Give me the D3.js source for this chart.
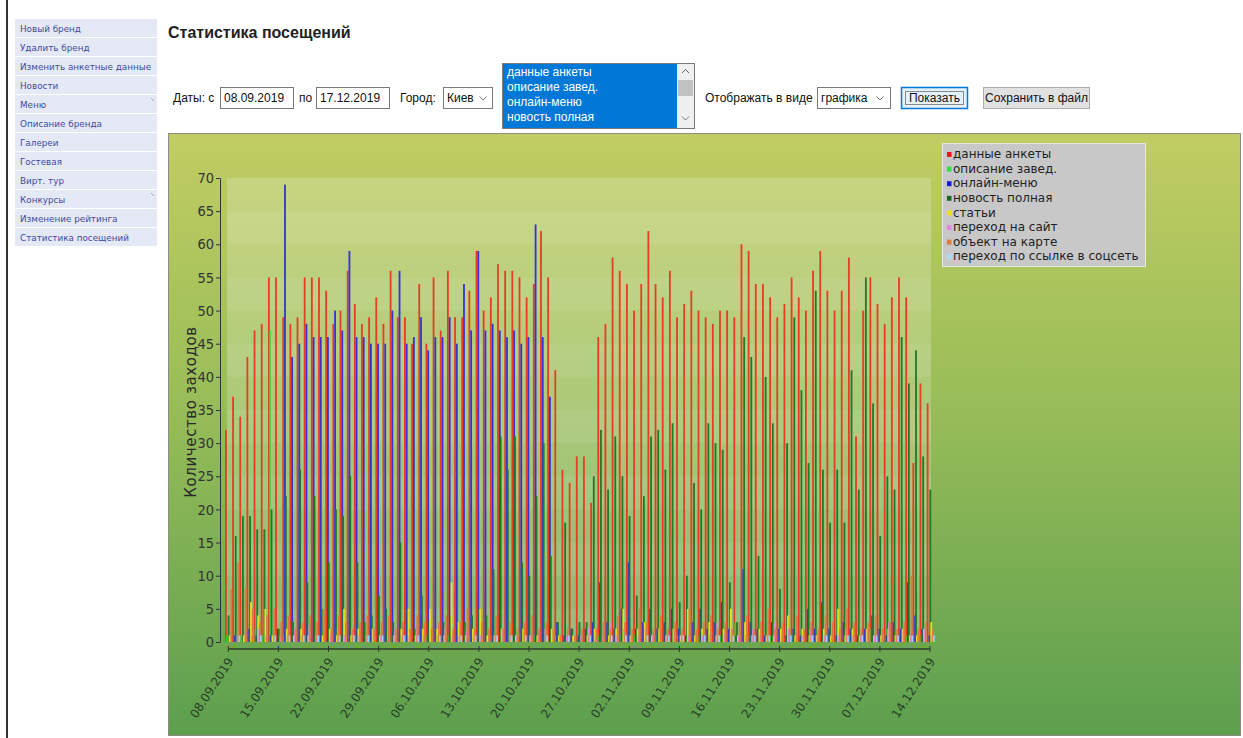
<!DOCTYPE html>
<html lang="ru">
<head>
<meta charset="UTF-8">
<title>Статистика посещений</title>
<script src="https://cdn.jsdelivr.net/npm/d3@7"></script>
<style>
  body { margin: 0; background: #fff; }
  svg { display: block; }
</style>
</head>
<body>
<svg width="1243" height="738"></svg>
<script>
  const svg = d3.select("svg");

  // ---- данные ----
  const menuItems = ["Новый бренд", "Удалить бренд", "Изменить анкетные данные", "Новости", "Меню",
    "Описание бренда", "Галереи", "Гостевая", "Вирт. тур", "Конкурсы", "Изменение рейтинга", "Статистика посещений"];
  const listItems = ["данные анкеты", "описание завед.", "онлайн-меню", "новость полная"];

  const seriesNames = ["данные анкеты", "описание завед.", "онлайн-меню", "новость полная", "статьи",
    "переход на сайт", "объект на карте", "переход по ссылке в соцсеть"];
  const seriesColors = ["#e83c24", "#3ccc30", "#3434d4", "#1f7a26", "#e8df22", "#e08ad2", "#e07a42", "#9ccdf0"];
  const legendColors = ["#e81818", "#30e040", "#1818d8", "#1a6a22", "#f0e020", "#e884e0", "#e07a3a", "#a8dcf4"];

  const tickLabels = ["08.09.2019", "15.09.2019", "22.09.2019", "29.09.2019", "06.10.2019", "13.10.2019", "20.10.2019",
    "27.10.2019", "02.11.2019", "09.11.2019", "16.11.2019", "23.11.2019", "30.11.2019", "07.12.2019", "14.12.2019"];
  const tickIndex = [0, 7, 14, 21, 28, 35, 42, 49, 56, 63, 70, 77, 84, 91, 98];

  const anketa = [32,37,34,43,47,48,55,55,49,48, 49,55,55,55,53,48,50,56,51,48,
    49,52,48,56,49,49,45,54,45,55, 47,56,49,49,53,59,50,52,57,56, 56,55,52,54,62,55,41,26,24,28,
    28,21,46,48,58,56,54,50,54,62, 54,52,56,49,51,53,50,49,48,50, 50,49,60,59,54,54,52,49,51,55,
    52,50,56,59,53,50,53,58,31,50, 55,51,48,52,55,52,27,39,36];
  const opisanie = [1,0,1,0,2,1,47,0,1,0, 0,1,0,1,0,0,1,0,1,0, 1,0,0,1,0,1,0,0,1,0, 0,1,0,0,1,0,0,1,0,0,
    1,0,0,1,0,0,1,0,0,1, 0,0,1,0,0,1,0,1,0,0, 1,0,0,1,0,0,1,0,0,1, 0,3,0,1,0,0,1,0,0,1,
    0,0,1,0,1,0,0,1,0,0, 2,0,1,0,0,1,0,1,0];
  const menu = [0,1,0,2,1,0,1,2,69,43, 45,48,46,46,46,50,47,59,46,46, 45,45,45,50,56,45,46,49,44,46,
    46,49,45,54,47,59,47,48,47,46, 47,45,46,63,46,37,3,1,2,1, 2,3,9,3,2,5,12,2,3,5,
    2,3,5,2,1,3,5,2,3,6, 2,1,11,3,2,1,3,2,1,2, 1,5,2,6,2,1,3,2,1,2, 4,2,1,3,2,9,4,2,1];
  const novost = [4,16,19,19,17,17,20,2,22,3, 26,9,22,5,12,20,19,25,12,3, 4,7,5,3,15,5,2,7,3,2,
    3,4,2,3,4,5,4,11,31,26, 31,12,10,22,30,13,3,18,2,3, 3,25,32,23,31,25,19,7,22,31,
    32,26,33,6,10,24,20,33,30,29, 9,3,46,43,13,40,33,8,30,49, 38,27,53,26,18,26,18,41,23,55,
    36,16,25,23,46,39,44,28,23];
  const stati = [1,0,1,6,4,5,1,0,2,1, 2,1,0,1,2,1,5,1,2,0, 2,1,0,1,2,5,1,2,5,2, 1,9,3,1,2,5,1,1,2,0,
    1,2,1,1,0,2,1,0,1,0, 1,2,0,1,2,5,1,2,3,1, 2,1,2,1,5,1,2,3,1,2, 5,1,3,1,2,1,1,2,4,1,
    2,1,1,2,1,5,1,2,1,2, 1,1,2,1,2,1,1,2,3];
  const sait = [0,1,0,1,2,1,0,1,1,2, 1,2,1,0,1,2,1,2,1,1, 2,1,1,2,1,1,2,1,0,1, 2,1,1,2,1,1,0,1,2,1,
    1,2,1,1,2,0,1,1,0,1, 2,1,1,3,1,2,1,1,2,1, 3,1,2,1,1,2,1,1,3,1, 2,1,1,2,1,1,3,1,2,1,
    1,2,1,1,3,1,2,1,1,2, 1,1,3,1,2,1,1,2,1];
  const karta = [8,12,8,5,3,4,5,3,4,2, 3,4,3,5,2,4,3,2,3,4, 2,3,4,2,3,2,4,3,2,3, 4,2,3,5,2,3,2,4,2,3,
    2,3,4,2,3,2,1,2,1,2, 1,2,3,2,4,3,2,5,3,2, 4,2,3,2,5,2,3,4,2,3, 2,3,4,2,3,5,2,3,2,4,
    2,3,2,4,3,2,5,3,2,3, 4,2,3,2,3,10,2,3,2];
  const socset = [0,1,0,0,1,0,1,0,1,0, 1,0,1,0,0,1,0,1,0,1, 0,1,0,0,1,0,1,0,0,1, 0,0,1,0,1,0,0,1,0,1,
    0,1,0,0,1,0,0,1,0,0, 1,0,0,1,0,1,0,0,1,0, 0,1,0,1,0,0,1,0,1,0, 1,0,0,1,0,1,0,0,1,0,
    0,1,0,1,0,0,1,0,1,0, 1,0,0,1,0,1,0,0,1];

  const series = [anketa, opisanie, menu, novost, stati, sait, karta, socset];
  const days = d3.range(anketa.length);

  // ---- левая рамка и меню ----
  svg.append("line").attr("x1", 7).attr("x2", 7).attr("y1", 0).attr("y2", 738)
    .attr("stroke", "#333").attr("stroke-width", 2);

  const menuG = svg.append("g").attr("transform", "translate(15,19)");
  const item = menuG.selectAll("g").data(menuItems).join("g")
    .attr("transform", (d, i) => `translate(0,${i * 19})`);
  item.append("rect").attr("width", 142).attr("height", 18).attr("fill", "#e5e9f6");
  item.append("text").attr("x", 5).attr("y", 9.5).attr("dy", "0.35em")
    .attr("font-family", "DejaVu Sans").attr("font-size", "8.8px").attr("fill", "#3d4b9e")
    .text(d => d);
  item.filter(d => d === "Меню" || d === "Конкурсы").append("path")
    .attr("d", "M136,3 L139,6").attr("stroke", "#a8aab8").attr("stroke-width", 1);

  // ---- заголовок и форма ----
  svg.append("text").attr("x", 168).attr("y", 38)
    .attr("font-family", "Liberation Sans, Arial").attr("font-weight", "bold").attr("font-size", "16px")
    .attr("fill", "#222").text("Статистика посещений");

  const form = svg.append("g").attr("font-family", "Liberation Sans, Arial").attr("font-size", "12px").attr("fill", "#111");
  const label = (x, t) => form.append("text").attr("x", x).attr("y", 98).attr("dy", "0.35em").text(t);
  const box = (x, w, t) => {
    form.append("rect").attr("x", x + 0.5).attr("y", 87.5).attr("width", w).attr("height", 21)
      .attr("fill", "#fff").attr("stroke", "#7a7a7a");
    form.append("text").attr("x", x + 4).attr("y", 98).attr("dy", "0.35em").text(t);
  };
  const chevron = (x, y) => form.append("path").attr("d", `M${x - 3.5},${y - 1.5} L${x},${y + 2} L${x + 3.5},${y - 1.5}`)
    .attr("fill", "none").attr("stroke", "#777");

  label(173, "Даты: с");
  box(220, 73, "08.09.2019");
  label(299, "по");
  box(316, 73, "17.12.2019");
  label(400, "Город:");
  box(443, 49, "Киев");
  chevron(483, 98);

  // список
  form.append("rect").attr("x", 502.5).attr("y", 63.5).attr("width", 192).attr("height", 65)
    .attr("fill", "#fff").attr("stroke", "#7a7a7a");
  form.append("rect").attr("x", 503).attr("y", 64).attr("width", 174).attr("height", 64).attr("fill", "#0078d7");
  form.selectAll(".li").data(listItems).join("text").attr("class", "li")
    .attr("x", 507).attr("y", (d, i) => 72 + i * 14.8).attr("dy", "0.35em").attr("fill", "#fff").text(d => d);
  form.append("rect").attr("x", 677).attr("y", 64).attr("width", 17).attr("height", 64).attr("fill", "#f0f0f0");
  form.append("rect").attr("x", 678).attr("y", 80).attr("width", 15).attr("height", 16).attr("fill", "#c2c2c2");
  form.append("path").attr("d", "M682,73 L685.5,69.5 L689,73").attr("fill", "none").attr("stroke", "#606060");
  chevron(685.5, 118);

  label(705, "Отображать в виде");
  box(817, 73, "графика");
  chevron(880, 98);

  // кнопки
  form.append("rect").attr("x", 901.5).attr("y", 87.5).attr("width", 66).attr("height", 21)
    .attr("fill", "#e5f1fb").attr("stroke", "#0078d7").attr("stroke-width", 1.5);
  form.append("rect").attr("x", 905.5).attr("y", 91.5).attr("width", 58).attr("height", 13)
    .attr("fill", "none").attr("stroke", "#222").attr("stroke-dasharray", "1,1");
  form.append("text").attr("x", 934.5).attr("y", 98).attr("dy", "0.35em").attr("text-anchor", "middle").text("Показать");
  form.append("rect").attr("x", 983.5).attr("y", 87.5).attr("width", 106).attr("height", 21)
    .attr("fill", "#e1e1e1").attr("stroke", "#adadad");
  form.append("text").attr("x", 1036.5).attr("y", 98).attr("dy", "0.35em").attr("text-anchor", "middle").text("Сохранить в файл");

  // ---- график ----
  const defs = svg.append("defs");
  const grad = defs.append("linearGradient").attr("id", "bg").attr("x1", 0).attr("x2", 0).attr("y1", 0).attr("y2", 1);
  grad.append("stop").attr("offset", "0%").attr("stop-color", "#c1cd62");
  grad.append("stop").attr("offset", "45%").attr("stop-color", "#98bd58");
  grad.append("stop").attr("offset", "100%").attr("stop-color", "#5c9f4e");

  svg.append("rect").attr("x", 168.5).attr("y", 133.5).attr("width", 1072).attr("height", 602)
    .attr("fill", "url(#bg)").attr("stroke", "#8c8c80");

  const y = d3.scaleLinear().domain([0, 70]).range([642, 178]);
  const x = d3.scaleBand().domain(days).range([224.7, 933.6]);
  const xs = d3.scaleBand().domain(d3.range(series.length)).range([0, x.bandwidth()]);

  // область построения с полосами
  svg.append("rect").attr("x", 227).attr("y", y(70)).attr("width", 704).attr("height", y(0) - y(70))
    .attr("fill", "#fff").attr("opacity", 0.2);
  svg.append("g").selectAll("rect").data(d3.range(0, 70, 10)).join("rect")
    .attr("x", 227).attr("y", d => y(d + 5)).attr("width", 704).attr("height", d => y(d) - y(d + 5))
    .attr("fill", "#fff").attr("opacity", 0.07);

  // столбцы
  const barG = svg.append("g");
  series.forEach((vals, k) => {
    barG.append("g").selectAll("rect").data(vals).join("rect")
      .attr("x", (d, i) => x(i) + xs(k) + 0.3)
      .attr("y", d => y(d))
      .attr("width", 1.8)
      .attr("height", d => y(0) - y(d))
      .attr("fill", seriesColors[k]);
  });

  // оси
  const yAxis = svg.append("g").attr("transform", "translate(220,0)")
    .call(d3.axisLeft(y).tickValues(d3.range(0, 75, 5)).tickSize(4).tickSizeOuter(0).tickPadding(2));
  yAxis.selectAll("path, line").attr("stroke", "#333");
  yAxis.selectAll("text").attr("font-family", "Liberation Sans Narrow, DejaVu Sans Condensed")
    .attr("font-size", "14.5px").attr("fill", "#333");

  const xAxis = svg.append("g").attr("transform", "translate(0,649)")
    .call(d3.axisBottom(x).tickValues(tickIndex).tickFormat((d, i) => tickLabels[i]).tickSize(3).tickSizeOuter(0));
  xAxis.select(".domain").remove();
  xAxis.append("line").attr("x1", x(0) + x.bandwidth() / 2).attr("x2", x(98) + x.bandwidth() / 2)
    .attr("stroke", "#2b3d2b").attr("stroke-width", 1.5);
  xAxis.selectAll(".tick line").attr("y1", -3).attr("stroke", "#2b3d2b");
  xAxis.selectAll(".tick text")
    .attr("font-family", "DejaVu Sans").attr("font-size", "12px").attr("fill", "#284028")
    .attr("text-anchor", "end").attr("x", 0).attr("y", 0).attr("dy", "0.35em")
    .attr("transform", "translate(2,10) rotate(-57)");

  svg.append("text").attr("transform", "translate(196,412) rotate(-90)").attr("text-anchor", "middle")
    .attr("font-family", "DejaVu Sans").attr("font-size", "15px").attr("letter-spacing", "0.6px")
    .attr("fill", "#2a2a2a")
    .text("Количество заходов");

  // легенда
  const lg = svg.append("g");
  lg.append("rect").attr("x", 942.5).attr("y", 143.5).attr("width", 203).attr("height", 123)
    .attr("fill", "#c8c8c8").attr("stroke", "#e6e6e6");
  const le = lg.selectAll("g.le").data(seriesNames).join("g").attr("class", "le")
    .attr("transform", (d, i) => `translate(947,${154 + i * 14.6})`);
  le.append("rect").attr("x", 0).attr("y", -2).attr("width", 4.5).attr("height", 5)
    .attr("fill", (d, i) => legendColors[i]);
  le.append("text").attr("x", 6).attr("y", 0).attr("dy", "0.35em")
    .attr("font-family", "DejaVu Sans").attr("font-size", "12px")
    .attr("fill", "#222")
    .text(d => d);
</script>
</body>
</html>
